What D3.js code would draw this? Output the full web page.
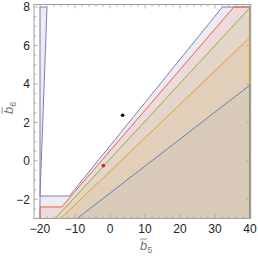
<!DOCTYPE html>
<html>
<head>
<meta charset="utf-8">
<script src="https://cdn.jsdelivr.net/npm/d3@7"></script>
<style>
  body { margin: 0; background: #fff; }
  svg text { font-family: "Liberation Sans", Arial, sans-serif; }
</style>
</head>
<body>
<svg id="chart" width="258" height="258"></svg>
<script>
// plot range
const xRange = [-21.7, 40.2];
const yRange = [-3, 8.13];
const xTicks = [-20, -10, 0, 10, 20, 30, 40];
const yTicks = [-2, 0, 2, 4, 6, 8];

// region boundaries (each region lies below / right of its boundary)
const purpleBoundary = [[-20, -1.83], [-11.6, -1.83], [32.1, 8]];
const purpleWedge = [[-20, 8], [-18, 8], [-20, -1.83]];
const redBoundary = [[-20, -2.4], [-13.8, -2.4], [35.4, 8]];
const greenBoundary = [[-15.7, -3], [40, 7.97]];
const orangeBoundary = [[-14.1, -3], [40, 6.42]];
const blueBoundary = [[-9.4, -3], [40, 3.94]];
const dots = [
  { x: 3.6, y: 2.37, color: '#000000' },
  { x: -1.9, y: -0.25, color: '#d62020' }
];

const colors = {
  purple: '#8778B3',
  red: '#EB6235',
  green: '#8FB032',
  orange: '#E19C24',
  blue: '#5E81B5'
};

const svg = d3.select('#chart');
const x = d3.scaleLinear().domain([-20, 40]).range([40, 250]);
const y = d3.scaleLinear().domain([-3, 8]).range([218.5, 7]);

const x0 = x(xRange[0]), x1 = x(xRange[1]);
const y0 = y(yRange[0]), y1 = y(yRange[1]);

svg.append('clipPath').attr('id', 'clip')
  .append('rect')
  .attr('x', x0).attr('y', y1)
  .attr('width', x1 - x0).attr('height', y0 - y1);

const line = d3.line().x(d => x(d[0])).y(d => y(d[1]));

// close every boundary down to the lower right corner of the region
function closeBelow(pts) {
  const first = pts[0], last = pts[pts.length - 1];
  const out = pts.slice();
  if (last[1] >= 8) out.push([40, 8]);
  out.push([40, -3]);
  out.push([first[0], -3]);
  return out;
}

const regions = [
  { color: colors.purple, op: 0.15, pts: purpleWedge.concat(closeBelow(purpleBoundary).slice(1)).concat([[-20, -3]]) },
  { color: colors.red, op: 0.12, pts: closeBelow(redBoundary) },
  { color: colors.green, op: 0.1, pts: closeBelow(greenBoundary) },
  { color: colors.orange, op: 0.1, pts: closeBelow(orangeBoundary) },
  { color: colors.blue, op: 0.06, pts: closeBelow(blueBoundary) }
];

const plot = svg.append('g').attr('clip-path', 'url(#clip)');

plot.selectAll('path.fill')
  .data(regions)
  .join('path')
  .attr('class', 'fill')
  .attr('d', d => line(d.pts) + 'Z')
  .attr('fill', d => d.color)
  .attr('fill-opacity', d => d.op)
  .attr('stroke', 'none');

plot.selectAll('path.edge')
  .data(regions)
  .join('path')
  .attr('class', 'edge')
  .attr('d', d => line(d.pts) + 'Z')
  .attr('fill', 'none')
  .attr('stroke', d => d.color)
  .attr('stroke-width', 1);

plot.selectAll('circle')
  .data(dots)
  .join('circle')
  .attr('cx', d => x(d.x))
  .attr('cy', d => y(d.y))
  .attr('r', 1.8)
  .attr('fill', d => d.color);

// frame
const frameColor = '#a0a0a0';
svg.append('rect')
  .attr('x', x0).attr('y', y1)
  .attr('width', x1 - x0).attr('height', y0 - y1)
  .attr('fill', 'none')
  .attr('stroke', frameColor)
  .attr('stroke-width', 1);

const xMinor = d3.range(-20, 40.01, 2);
const yMinor = d3.range(-3, 8.01, 0.5);

const ticks = svg.append('g').attr('stroke', frameColor).attr('stroke-width', 0.8);
xMinor.forEach(v => {
  const len = xTicks.includes(v) ? 4 : 2.2;
  ticks.append('line').attr('x1', x(v)).attr('x2', x(v)).attr('y1', y0).attr('y2', y0 - len);
  ticks.append('line').attr('x1', x(v)).attr('x2', x(v)).attr('y1', y1).attr('y2', y1 + len);
});
yMinor.forEach(v => {
  const len = yTicks.includes(v) ? 4 : 2.2;
  ticks.append('line').attr('y1', y(v)).attr('y2', y(v)).attr('x1', x0).attr('x2', x0 + len);
  ticks.append('line').attr('y1', y(v)).attr('y2', y(v)).attr('x1', x1).attr('x2', x1 - len);
});

svg.append('g').selectAll('text')
  .data(xTicks)
  .join('text')
  .attr('x', d => x(d))
  .attr('y', y0 + 14)
  .attr('text-anchor', 'middle')
  .attr('font-size', 12)
  .attr('fill', '#222')
  .text(d => d3.format('')(d).replace('-', '\u2212'));

svg.append('g').selectAll('text')
  .data(yTicks)
  .join('text')
  .attr('x', x0 - 4)
  .attr('y', d => y(d) + 4.3)
  .attr('text-anchor', 'end')
  .attr('font-size', 12)
  .attr('fill', '#222')
  .text(d => d3.format('')(d).replace('-', '\u2212'));

// axis labels: b with overbar and subscript
function barLabel(g, sub) {
  const t = g.append('text').attr('font-size', 13).attr('fill', '#777')
    .attr('font-family', '"DejaVu Serif", serif').attr('font-style', 'italic');
  t.append('tspan').text('b');
  t.append('tspan').attr('font-size', 9).attr('dy', 3).attr('font-style', 'normal').text(sub);
  g.append('line').attr('x1', 0).attr('x2', 7).attr('y1', -11).attr('y2', -11)
    .attr('stroke', '#777').attr('stroke-width', 0.8);
}
barLabel(svg.append('g').attr('transform', 'translate(140,250)'), '5');
barLabel(svg.append('g').attr('transform', 'translate(13,114) rotate(-90)'), '6');
</script>
</body>
</html>
